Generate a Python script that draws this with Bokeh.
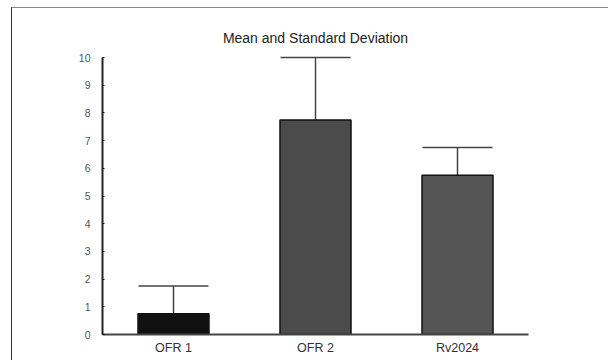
from bokeh.plotting import figure
from bokeh.models import ColumnDataSource, Whisker, TeeHead, FixedTicker, Range1d
from bokeh.embed import file_html
from bokeh.resources import INLINE

categories = ["OFR 1", "OFR 2", "Rv2024"]
means = [0.75, 7.75, 5.75]
sds = [1.0, 2.25, 1.0]
colors = ["#111111", "#4b4b4b", "#555555"]
y_ticks = [0, 1, 2, 3, 4, 5, 6, 7, 8, 9, 10]

src = ColumnDataSource(dict(
    cat=categories,
    mean=means,
    upper=[m + s for m, s in zip(means, sds)],
    color=colors,
))

p = figure(
    x_range=categories,
    y_range=Range1d(0, 10.4),
    output_backend="svg",
    toolbar_location=None,
    frame_width=426,
    frame_height=288,
    min_border_left=90,
    min_border_right=80,
    min_border_top=38,
    min_border_bottom=26,
    title="Mean and Standard Deviation",
)
p.styles = {
    "border-left": "1px solid #333333",
    "border-top": "1px solid #888888",
    "margin-left": "11px",
    "margin-top": "7px",
}

p.title.align = "center"
p.title.text_font = "Liberation Sans"
p.title.text_font_size = "14px"
p.title.text_font_style = "normal"
p.title.text_color = "#222222"
p.title.standoff = 2

p.vbar(x="cat", top="mean", width=0.5, source=src, fill_color="color",
       line_color="#111111", line_width=1.5)

w = Whisker(base="cat", upper="upper", lower="mean", source=src,
            line_color="#444444", line_width=1.5,
            upper_head=TeeHead(size=70, line_color="#444444", line_width=1.5),
            lower_head=None)
p.add_layout(w)

p.xgrid.visible = False
p.ygrid.visible = False
p.outline_line_color = None

p.yaxis.ticker = FixedTicker(ticks=y_ticks)
p.yaxis.bounds = (0, 10)
p.yaxis.axis_line_width = 2
p.yaxis.axis_line_color = "#222222"
p.yaxis.major_tick_in = 2
p.yaxis.major_tick_out = 0
p.yaxis.minor_tick_line_color = None
p.yaxis.major_label_text_font = "Liberation Sans"
p.yaxis.major_label_text_font_size = "10.5px"
p.yaxis.major_label_text_color = "#555555"
p.yaxis.major_label_standoff = 12

p.xaxis.axis_line_width = 2
p.xaxis.axis_line_color = "#444444"
p.xaxis.major_tick_line_color = None
p.xaxis.major_tick_in = 0
p.xaxis.major_tick_out = 0
p.xaxis.major_label_text_font = "Liberation Sans"
p.xaxis.major_label_text_font_size = "12.5px"
p.xaxis.major_label_text_color = "#333333"
p.xaxis.major_label_standoff = 6

open("out.html", "w").write(file_html(p, INLINE))
